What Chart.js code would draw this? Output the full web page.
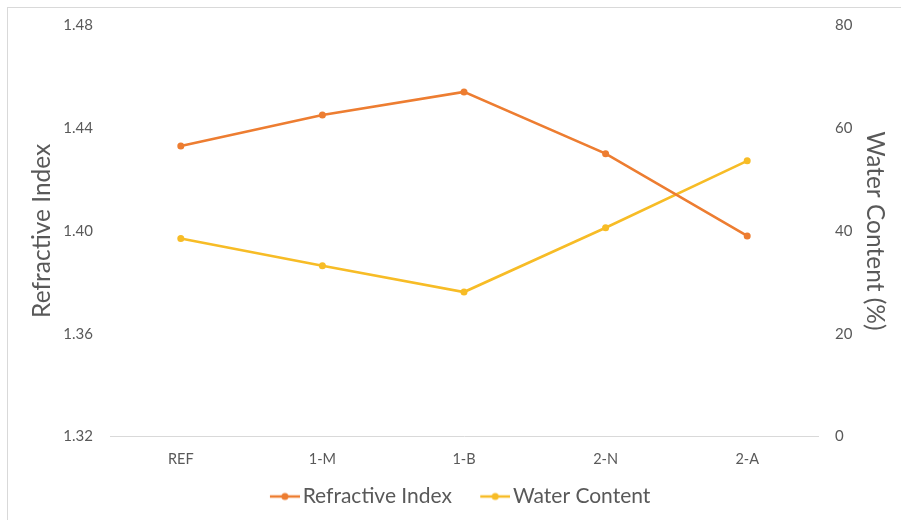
<!DOCTYPE html>
<html>
<head>
<meta charset="utf-8">
<script src="https://cdn.jsdelivr.net/npm/chart.js@4/dist/chart.umd.min.js"></script>
<style>
  html, body { margin: 0; padding: 0; background: #fff; }
  #wrap { width: 901px; height: 520px; position: relative; }
</style>
</head>
<body>
<div id="wrap"><canvas id="c" width="901" height="520"></canvas></div>
<script>
// Samples and measured values
const categories = ['REF', '1-M', '1-B', '2-N', '2-A'];
const refractiveIndex = [1.433, 1.445, 1.454, 1.430, 1.398];
const waterContent = [38.5, 33.2, 28.1, 40.6, 53.6];

// Axis tick values
const indexTicks = [1.32, 1.36, 1.40, 1.44, 1.48];
const waterTicks = [0, 20, 40, 60, 80];

const ORANGE = '#ED7D31';
const GOLD = '#F7BC26';
const TEXT = '#595959';
const FONT = 'Lato, "Liberation Sans", sans-serif';

// Legend swatch: short line with a round marker. The left part of the
// image is left transparent so the visible line sits right next to the text.
function swatch(color) {
  const c = document.createElement('canvas');
  c.width = 44; c.height = 10;
  const g = c.getContext('2d');
  g.strokeStyle = color; g.lineWidth = 2.5;
  g.beginPath(); g.moveTo(14, 5); g.lineTo(44, 5); g.stroke();
  g.fillStyle = color;
  g.beginPath(); g.arc(29, 5, 3.5, 0, Math.PI * 2); g.fill();
  return c;
}
const swatches = [swatch(ORANGE), swatch(GOLD)];

// Light frame around the whole chart
const frame = {
  id: 'frame',
  beforeDraw(chart) {
    const ctx = chart.ctx;
    ctx.save();
    ctx.fillStyle = '#fff';
    ctx.fillRect(0, 0, chart.width, chart.height);
    ctx.strokeStyle = '#D9D9D9';
    ctx.lineWidth = 1;
    ctx.strokeRect(7.5, 7.5, chart.width, chart.height);
    ctx.restore();
  }
};

new Chart(document.getElementById('c'), {
  type: 'line',
  data: {
    labels: categories,
    datasets: [
      {
        label: 'Refractive Index',
        data: refractiveIndex,
        yAxisID: 'y',
        borderColor: ORANGE,
        backgroundColor: ORANGE,
        borderWidth: 2.6,
        pointRadius: 3.5,
        pointBorderWidth: 0,
        tension: 0
      },
      {
        label: 'Water Content',
        data: waterContent,
        yAxisID: 'y1',
        borderColor: GOLD,
        backgroundColor: GOLD,
        borderWidth: 2.6,
        pointRadius: 3.5,
        pointBorderWidth: 0,
        tension: 0
      }
    ]
  },
  options: {
    responsive: false,
    animation: false,
    layout: { padding: { top: 25, left: 13, right: 0, bottom: 3 } },
    plugins: {
      tooltip: { enabled: false },
      legend: {
        position: 'bottom',
        labels: {
          usePointStyle: true,
          pointStyleWidth: 28.5,
          padding: 22,
          color: TEXT,
          font: { family: FONT, size: 21 },
          generateLabels: (chart) => chart.data.datasets.map((d, i) => ({
            text: d.label,
            fillStyle: d.borderColor,
            strokeStyle: d.borderColor,
            lineWidth: 0,
            pointStyle: swatches[i],
            fontColor: TEXT,
            hidden: false,
            datasetIndex: i
          }))
        }
      }
    },
    scales: {
      x: {
        offset: true,
        grid: { display: false, drawTicks: false },
        border: { display: true, color: '#D9D9D9', width: 1 },
        ticks: { color: TEXT, font: { family: FONT, size: 14.5 }, padding: 14 },
        afterFit(s) { s.height = s.height - 18; s.paddingLeft = 0; s.paddingRight = 0; }
      },
      y: {
        position: 'left',
        min: 1.32, max: 1.48,
        grid: { display: false, drawTicks: false },
        border: { display: false },
        afterBuildTicks(s) { s.ticks = indexTicks.map(v => ({ value: v })); },
        ticks: {
          color: TEXT, font: { family: FONT, size: 15 }, padding: 17,
          callback: (v) => Number(v).toFixed(2)
        },
        title: {
          display: true, text: 'Refractive Index', color: TEXT,
          font: { family: FONT, size: 24.5, lineHeight: 1 },
          padding: { top: 17, bottom: 0 }
        },
        afterFit(s) { s.width = 97; s.paddingTop = 0; s.paddingBottom = 0; }
      },
      y1: {
        position: 'right',
        min: 0, max: 80,
        grid: { display: false, drawTicks: false },
        border: { display: false },
        afterBuildTicks(s) { s.ticks = waterTicks.map(v => ({ value: v })); },
        ticks: { color: TEXT, font: { family: FONT, size: 15 }, padding: 17 },
        title: {
          display: true, text: 'Water Content (%)', color: TEXT,
          font: { family: FONT, size: 24.5, lineHeight: 1 },
          padding: { top: 14, bottom: 0 }
        },
        afterFit(s) { s.width = 83; s.paddingTop = 0; s.paddingBottom = 0; }
      }
    }
  },
  plugins: [frame]
});
</script>
</body>
</html>
